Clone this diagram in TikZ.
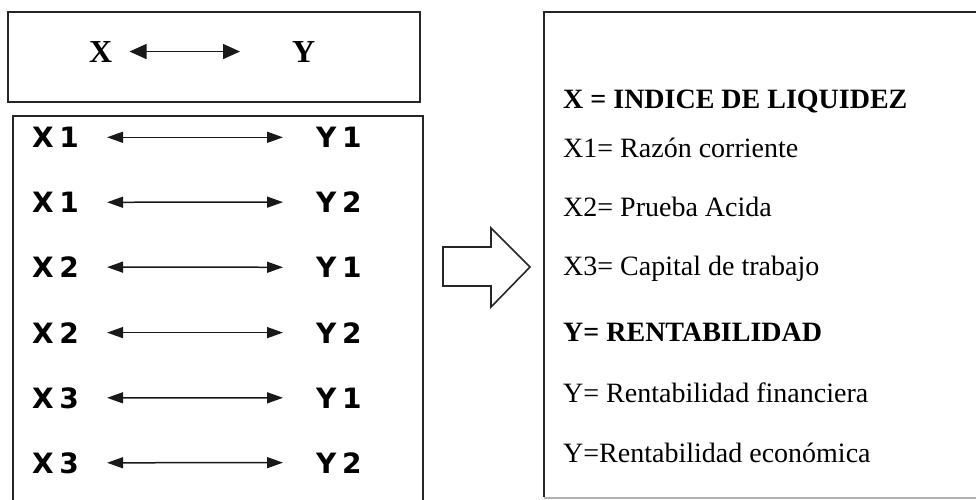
\documentclass[tikz,border=0pt]{standalone}
\usepackage{fontspec}
\setmainfont{Liberation Serif}
\newfontfamily\verd{DejaVu Sans}
\usetikzlibrary{arrows.meta}
\begin{document}
\begin{tikzpicture}[x=1pt,y=-1pt,
  frame/.style={draw=black!85,line width=2pt},
  lbl/.style={inner sep=0pt,anchor=base west,font=\verd\bfseries\fontsize{28}{31}\selectfont},
  toptxt/.style={inner sep=0pt,anchor=base west,font=\bfseries\fontsize{32}{35}\selectfont},
  rtxt/.style={inner sep=0pt,anchor=base west,font=\fontsize{28}{31}\selectfont},
  pair/.style={{Triangle[length=16pt,width=11pt]}-{Triangle[length=16pt,width=11pt]},line width=1.5pt,draw=black!90},
  toppair/.style={{Triangle[length=17pt,width=15pt]}-{Triangle[length=17pt,width=15pt]},line width=1.4pt,draw=black!90},
  blockarrow/.style={draw=black!85,line width=1.6pt,line join=miter,fill=white},
]
\useasboundingbox (0,0) rectangle (976,499);
\fill[white] (0,0) rectangle (976,499);

% top box
\draw[frame] (8,12) rectangle (420,102);
\node[toptxt] (X) at (89,62) {X};
\node[toptxt] (Y) at (292,62) {Y};
\draw[toppair,shorten <=17pt,shorten >=52pt] (X) -- (Y);

% lower-left box (bottom edge outside the picture)
\draw[frame] (13,510) -- (13,116) -- (423,116) -- (423,510);

\foreach \i/\xl/\yl/\yy in {1/1/1/147.5,2/1/2/212.5,3/2/1/277.5,4/2/2/343,5/3/1/408,6/3/2/473}{
  \node[lbl] (x\i) at (32,\yy) {X\hspace{0.2em}\xl};
  \node[lbl] (y\i) at (316,\yy) {Y\hspace{0.2em}\yl};
  \draw[pair,shorten <=28pt,shorten >=33pt] (x\i) -- (y\i);
}

% block arrow
\draw[blockarrow] (443,247) -- (491,247) -- (491,228) -- (530,267) -- (491,307) -- (491,286) -- (443,286) -- cycle;

% right box
\draw[frame] (990,12) -- (544,12) -- (544,497);
\draw[black!30,line width=1.5pt] (544,498) -- (990,498);

\node[rtxt] (t1) at (563,108) {\textbf{X = INDICE DE LIQUIDEZ}};
\node[rtxt] (t2) at (563,157) {X1= Razón corriente};
\node[rtxt] (t3) at (563,216) {X2= Prueba Acida};
\node[rtxt] (t4) at (563,275) {X3= Capital de trabajo};
\node[rtxt] (t5) at (563,341.5) {\textbf{Y= RENTABILIDAD}};
\node[rtxt] (t6) at (563,402) {Y= Rentabilidad financiera};
\node[rtxt] (t7) at (563,462) {Y=Rentabilidad económica};
\end{tikzpicture}
\end{document}
